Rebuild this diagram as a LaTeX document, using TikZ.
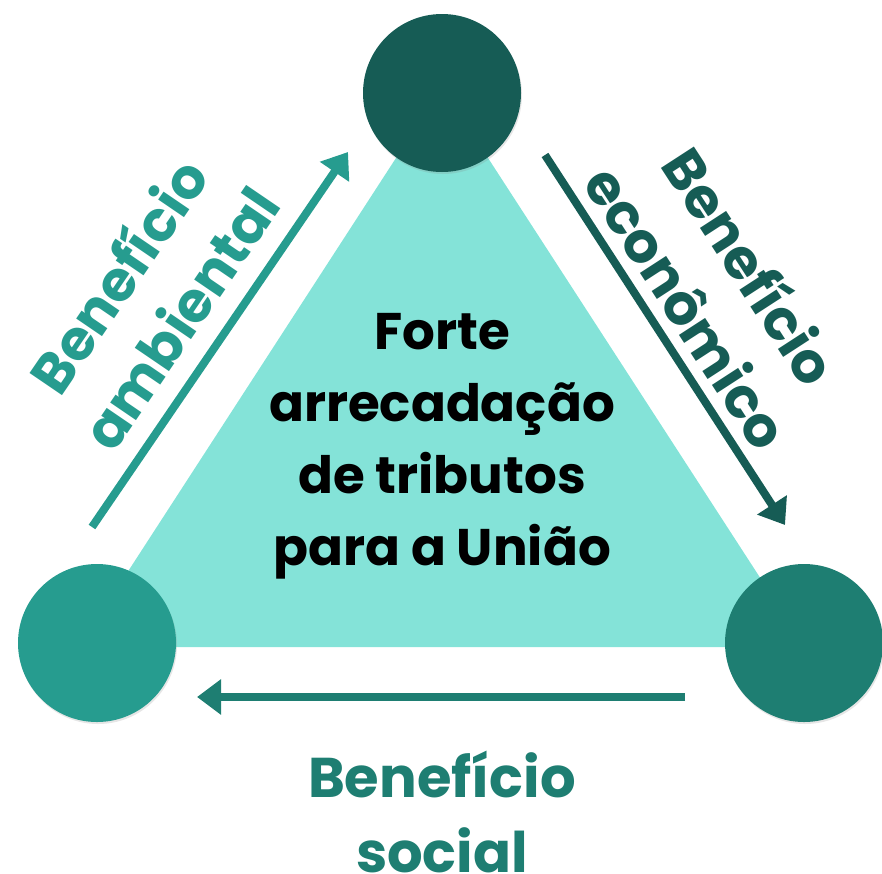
\documentclass[tikz,border=0pt]{standalone}
\usepackage{fontspec}
\setmainfont{Poppins}
\usepackage{tikz}
\usetikzlibrary{arrows.meta,shadows,positioning}
\definecolor{dunkelgruen}{HTML}{165C55}
\definecolor{mittelgruen}{HTML}{1E7E72}
\definecolor{tuerkis}{HTML}{269C8F}
\definecolor{hellgruen}{HTML}{84E3D8}

\begin{document}
\begin{tikzpicture}[x=1pt,y=-1pt,
    kreis/.style={circle, minimum size=158pt, inner sep=0pt, drop shadow={opacity=0.2, shadow xshift=1pt, shadow yshift=-2pt}},
    pfeil/.style={line width=8pt, -{Triangle[length=24pt,width=34pt]}},
    beschriftung/.style={font=\fontsize{56}{75}\selectfont\bfseries, align=center}]
        % Rahmen
        \useasboundingbox (0,0) rectangle (882,873);
        % Dreieck
        \fill[hellgruen] (442,87) -- (79,647) -- (805,647) -- cycle;
        % Kreise
        \node at (442,93) [kreis, fill=dunkelgruen] (oben) {};
        \node at (97,643) [kreis, fill=tuerkis] (links) {};
        \node at (804,643) [kreis, fill=mittelgruen] (rechts) {};
        % Text in der Mitte
        \node at (442,446) [font=\fontsize{51.5}{72}\selectfont\bfseries, align=center, text=black] (mitte) {Forte\\arrecadação\\de tributos\\para a União};
        % Pfeil links - ambiental
        \coordinate (a1) at (92,527);
        \coordinate (a2) at (348,152);
        \draw[pfeil, tuerkis] (a1) -- (a2);
        \node at (148,296) [beschriftung, text=tuerkis, rotate=55.7] (ambiental) {Benefício\\ambiental};
        % Pfeil rechts - econômico
        \coordinate (e1) at (545,155);
        \coordinate (e2) at (785,525);
        \draw[pfeil, dunkelgruen] (e1) -- (e2);
        \node at (720,286) [beschriftung, text=dunkelgruen, rotate=-57] (economico) {Benefício\\econômico};
        % Pfeil unten - social
        \coordinate (s1) at (685,697);
        \coordinate (s2) at (197,697);
        \draw[pfeil, mittelgruen, line width=8.5pt] (s1) -- (s2);
        \node at (442,812) [beschriftung, text=mittelgruen] (social) {Benefício\\social};
    \end{tikzpicture}
\end{document}
